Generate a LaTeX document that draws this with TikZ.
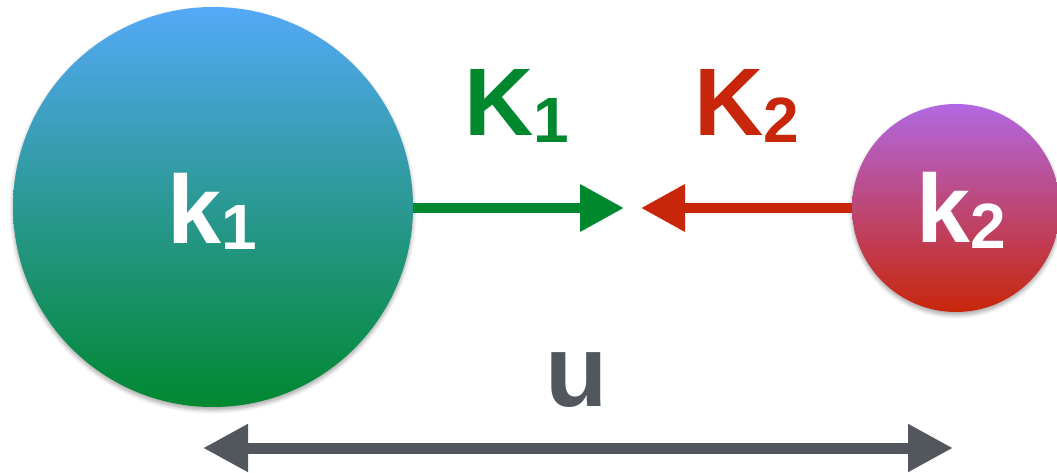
\documentclass[tikz,border=0pt]{standalone}
\usepackage{fontspec}
\setmainfont{Liberation Sans}
\usetikzlibrary{arrows.meta,shadows.blur}
\definecolor{kgreen}{HTML}{00882F}
\definecolor{kblue}{HTML}{54A9F7}
\definecolor{kpurple}{HTML}{B268E2}
\definecolor{kred}{HTML}{C8260A}
\definecolor{kgray}{HTML}{52575E}
\tikzset{
  ball/.style={circle, inner sep=0pt, draw=none, text=white,
    blur shadow={shadow xshift=0pt, shadow yshift=-3pt, shadow blur steps=6, shadow blur radius=4pt, shadow opacity=35}},
  biglabel/.style={font=\fontsize{97}{97}\selectfont\bfseries, anchor=base, inner sep=0pt},
  conn/.style={line width=10pt, -{Triangle[length=44pt,width=45pt]}},
  dim/.style={line width=11pt, kgray, {Triangle[length=45pt,width=45pt]}-{Triangle[length=45pt,width=45pt]}}
}
\newcommand{\subdig}[1]{\raisebox{-6.5pt}{\fontsize{64}{64}\selectfont #1}}
\begin{document}
\begin{tikzpicture}[x=1pt,y=-1pt]
\useasboundingbox (0,0) rectangle (1057,473);
% balls
\node[ball, minimum size=400pt, top color=kblue, bottom color=kgreen] (k1) at (213,207) {};
\node[ball, minimum size=208pt, top color=kpurple, bottom color=kred] (k2) at (956,208) {};
% ball labels
\node[biglabel, text=white] (k1lab) at (212,243) {k\subdig{1}};
\node[biglabel, text=white] (k2lab) at (961,242) {k\subdig{2}};
% arrow tips
\coordinate (gtip) at (624,208);
\coordinate (rtip) at (641,208);
\draw[conn, kgreen] (k1.east |- gtip) -- (gtip);
\draw[conn, kred] (k2.west |- rtip) -- (rtip);
% force labels
\node[biglabel, text=kgreen, font=\fontsize{96}{96}\selectfont\bfseries] (K1) at (517,136) {K\subdig{1}};
\node[biglabel, text=kred, font=\fontsize{96}{96}\selectfont\bfseries] (K2) at (747,136) {K\subdig{2}};
% distance
\coordinate (ua) at (203,448);
\coordinate (ub) at (953,448);
\draw[dim] (ua) -- (ub);
\node[biglabel, text=kgray, font=\fontsize{102}{102}\selectfont\bfseries] (u) at (577,406) {u};
\end{tikzpicture}
\end{document}
